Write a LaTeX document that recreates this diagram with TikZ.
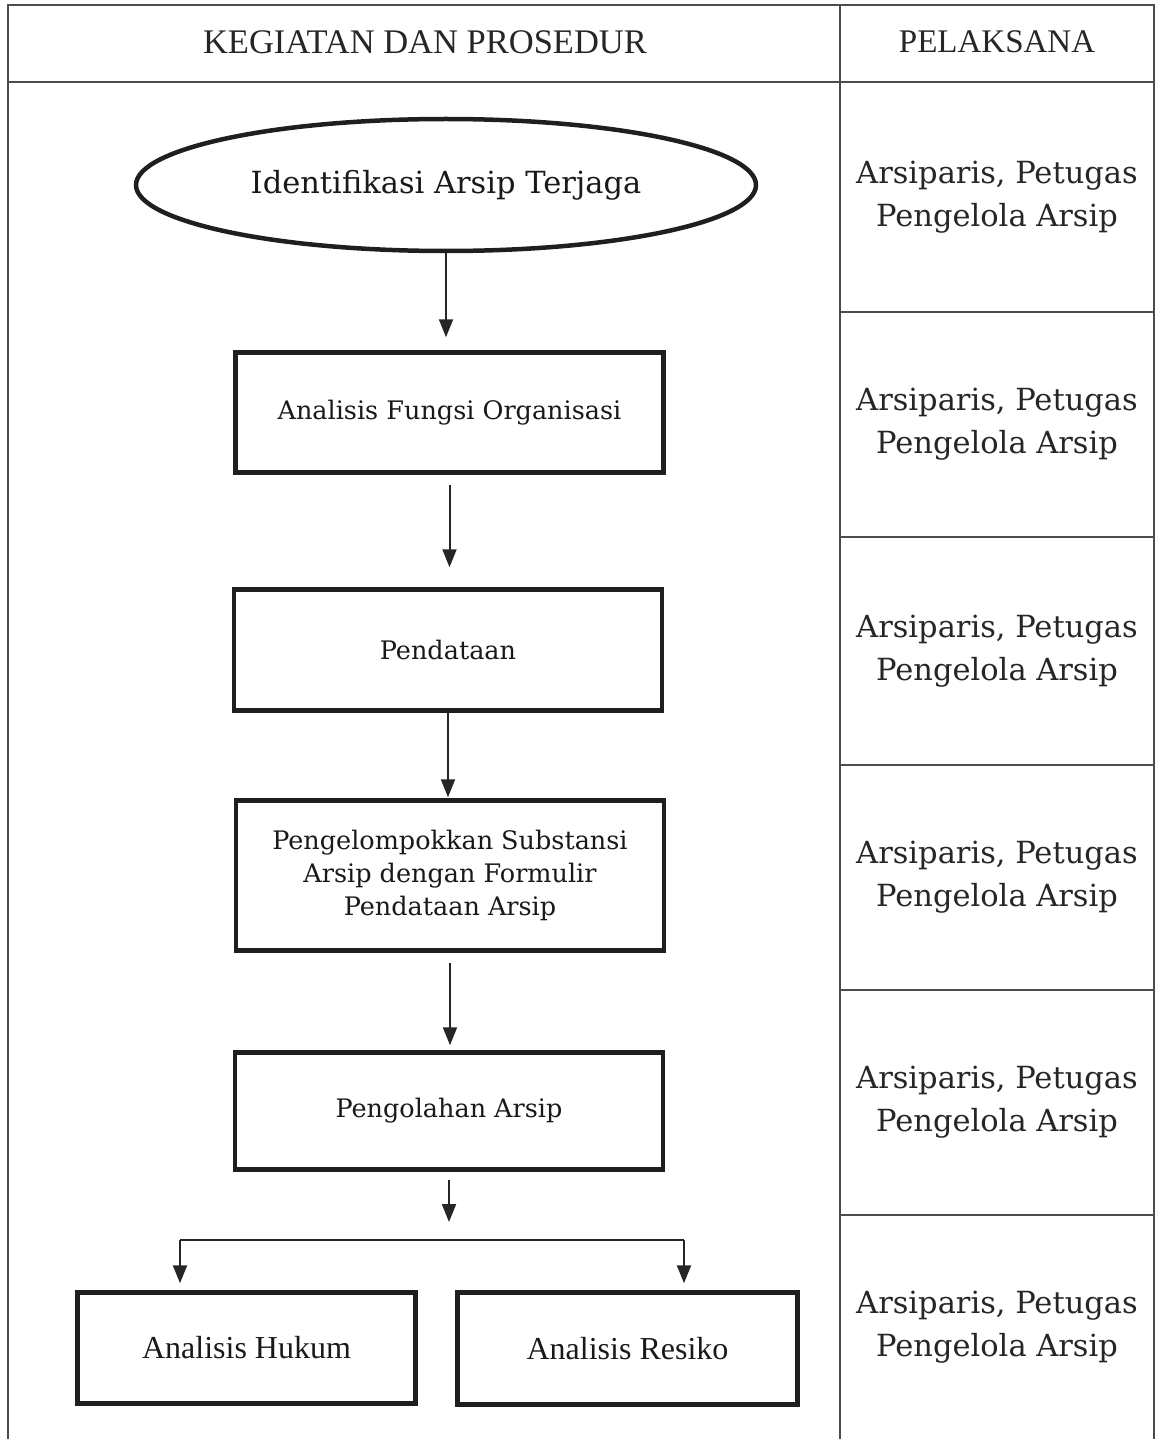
\documentclass[tikz,border=0pt]{standalone}
\usepackage{fontspec}
\setmainfont{DejaVu Serif}
\newfontfamily\timesf{Liberation Serif}
\usetikzlibrary{arrows.meta,shapes.geometric}
\begin{document}
\begin{tikzpicture}[x=1pt,y=-1pt,
  tline/.style={draw=black!70,line width=1.6pt},
  procbox/.style={draw=black!88,line width=4.5pt,inner sep=0pt,align=center,
    text=black!90,font=\fontsize{25.5}{33}\selectfont},
  termnode/.style={ellipse,draw=black!88,line width=4.5pt,inner sep=0pt,align=center,
    text=black!90,font=\fontsize{30.5}{38}\selectfont,minimum width=620pt,minimum height=132pt},
  condbox/.style={procbox,font=\timesf\fontsize{32}{36}\selectfont},
  headtext/.style={text=black!85,font=\timesf\fontsize{33}{38}\selectfont},
  actor/.style={text=black!85,align=center,font=\fontsize{30.5}{43}\selectfont},
  arr/.style={draw=black!85,line width=2pt,-{Triangle[width=14pt,length=18pt]}},
  plain/.style={draw=black!85,line width=2pt}]
\useasboundingbox (0,0) rectangle (1160,1439);
% table
\draw[tline] (8,1439) -- (8,5) -- (1154,5) -- (1154,1439);
\draw[tline] (840,5) -- (840,1439);
\draw[tline] (8,82) -- (1154,82);
\foreach \yy in {312,537,765,990,1215} \draw[tline] (840,\yy) -- (1154,\yy);
\node[headtext,font=\timesf\fontsize{34.5}{38}\selectfont] (h1) at (425,42) {KEGIATAN DAN PROSEDUR};
\node[headtext] (h2) at (997,42) {PELAKSANA};
\foreach \yy/\nm in {197/p1,424.5/p2,651/p3,877.5/p4,1102.5/p5,1327/p6}
  \node[actor] (\nm) at (997,\yy) {Arsiparis, Petugas\\Pengelola Arsip};
% flow
\node[termnode] (e1) at (446,185) {Identifikasi Arsip Terjaga};
\node[procbox,minimum width=428pt,minimum height=120pt] (b1) at (449.5,412.5) {Analisis Fungsi Organisasi};
\node[procbox,minimum width=428pt,minimum height=121pt] (b2) at (448,650) {Pendataan};
\node[procbox,minimum width=428pt,minimum height=150pt] (b3) at (450,875.5) {Pengelompokkan Substansi\\Arsip dengan Formulir\\Pendataan Arsip};
\node[procbox,minimum width=428pt,minimum height=117pt] (b4) at (449,1111) {Pengolahan Arsip};
\node[condbox,minimum width=338pt,minimum height=111pt] (b5) at (246.5,1348) {Analisis Hukum};
\node[condbox,minimum width=340pt,minimum height=112pt] (b6) at (627.5,1348.5) {Analisis Resiko};
\draw[arr,shorten >=13pt] (e1.south) -- (e1.south |- b1.north);
\draw[arr,shorten <=10pt,shorten >=20pt] (b1.south) -- (b1.south |- b2.north);
\draw[arr,shorten >=1pt] (b2.south) -- (b2.south |- b3.north);
\draw[arr,shorten <=10pt,shorten >=5pt] (b3.south) -- (b3.south |- b4.north);
\coordinate (s) at (449,1222);
\draw[arr,shorten <=8pt] (s |- b4.south) -- (s);
\coordinate (bl) at (180,1240);
\coordinate (br) at (684,1240);
\draw[plain] (bl) -- (br);
\draw[arr,shorten >=7pt] (bl) -- (bl |- b5.north);
\draw[arr,shorten >=7pt] (br) -- (br |- b6.north);
\end{tikzpicture}
\end{document}
